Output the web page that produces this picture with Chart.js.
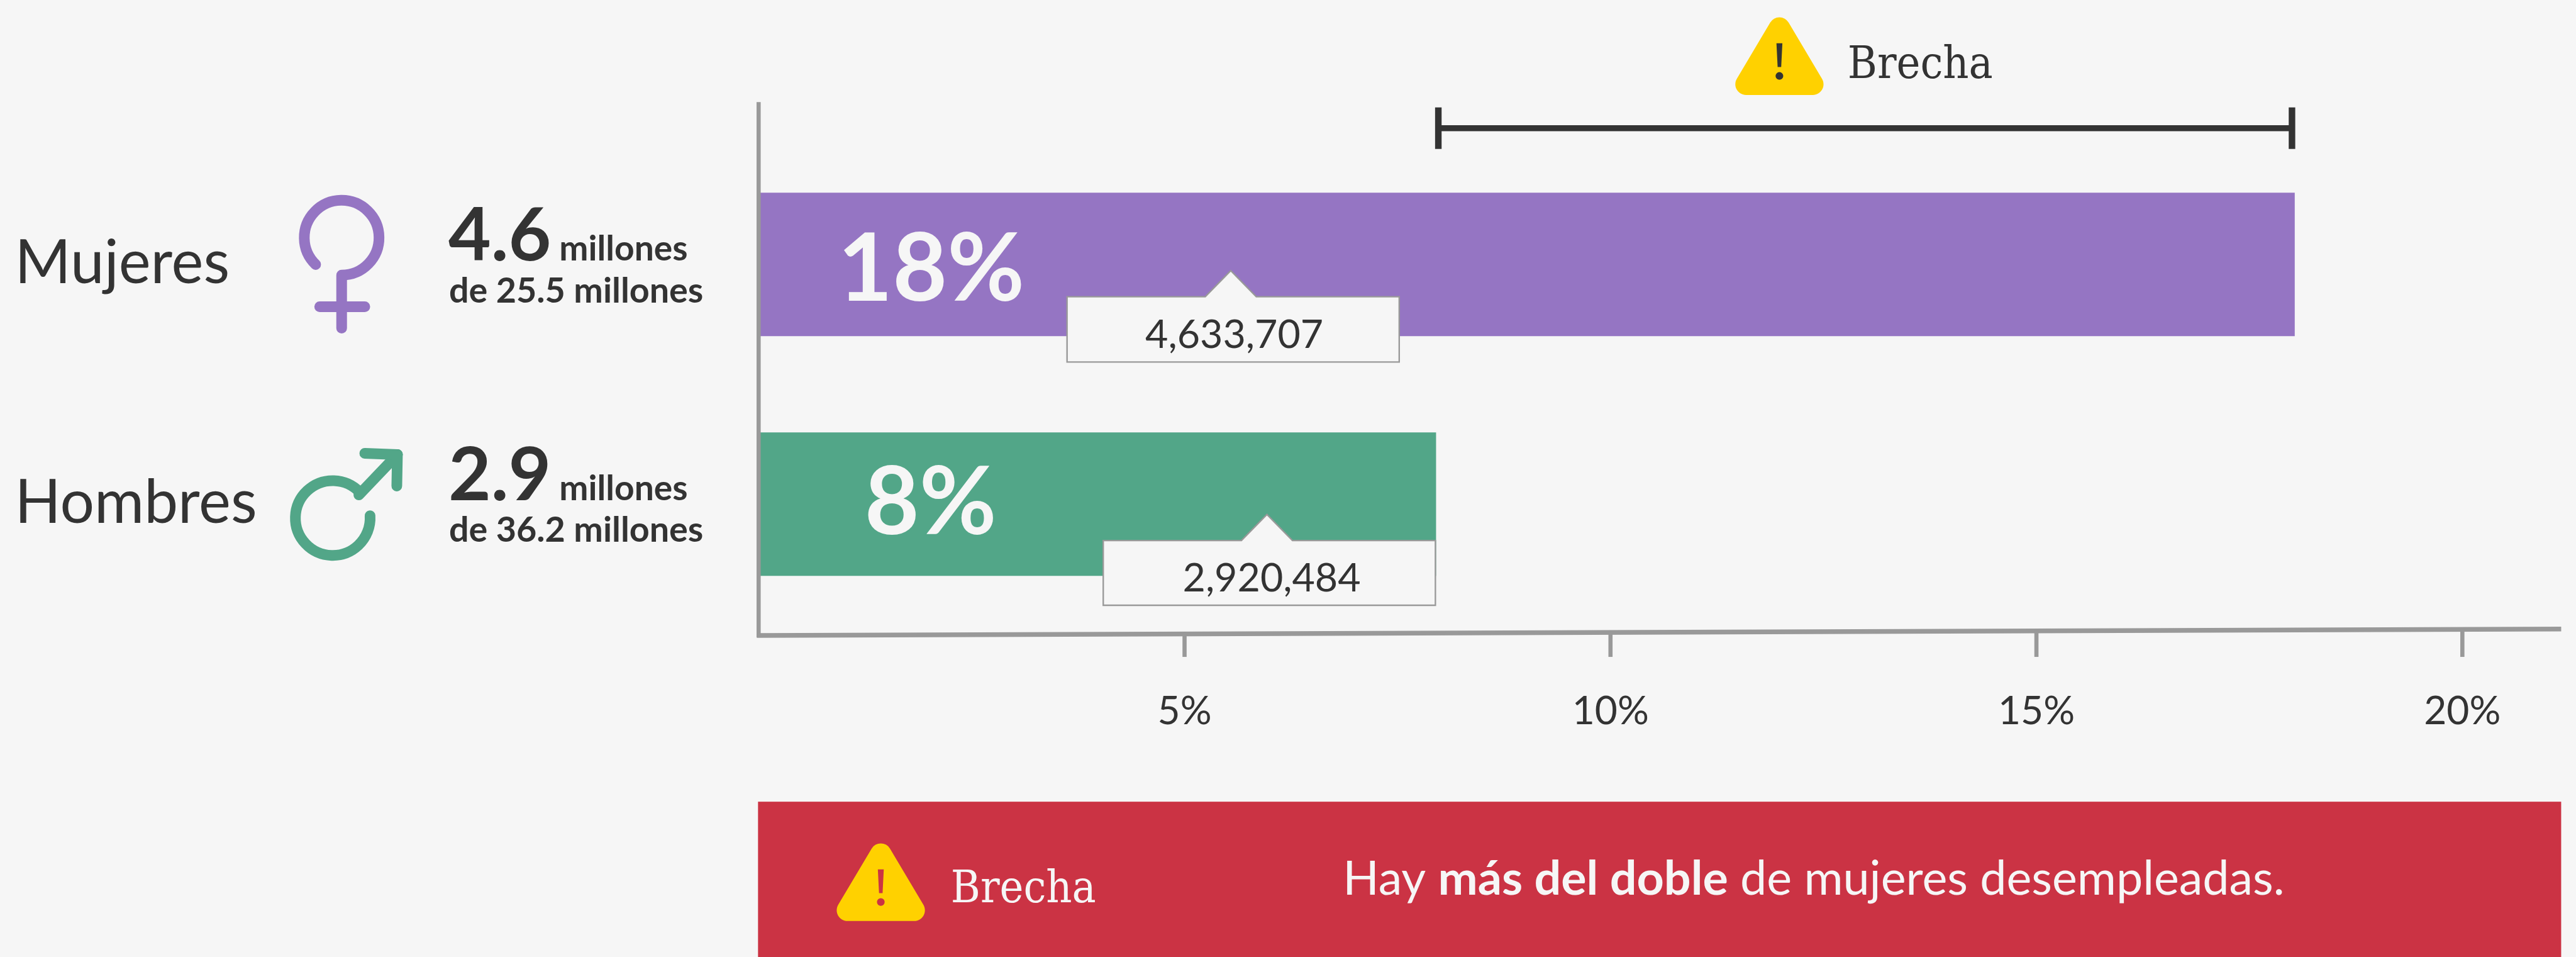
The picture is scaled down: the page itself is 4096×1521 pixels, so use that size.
<!DOCTYPE html>
<html lang="es">
<head>
<meta charset="utf-8">
<title>Brecha de desempleo</title>
<script src="https://cdn.jsdelivr.net/npm/chart.js@4/dist/chart.umd.min.js"></script>
<style>
  html, body { margin: 0; padding: 0; background: #f6f6f6; }
  canvas { display: block; }
</style>
</head>
<body>
<canvas id="chartBrecha" width="4096" height="1521"></canvas>
<script>
// Datos
const categorias = ["Mujeres", "Hombres"];
const valores = [18.03, 7.95];
const etiquetas = ["18%", "8%"];
const colores = ["#9575c3", "#52a688"];
const marcasEje = [5, 10, 15, 20];
const millones = ["4.6", "2.9"];
const totales = ["de 25.5 millones", "de 36.2 millones"];
const personas = ["4,633,707", "2,920,484"];

// Todo el dibujo extra va en coordenadas de la referencia (4343 de ancho)
const S = 4096 / 4343;
const BG = "#f6f6f6";
const OSCURO = "#333333";
const GRIS = "#999999";
const ROJO = "#cb3344";
const AMARILLO = "#ffd100";
const SERIF = "400 75.5px 'DejaVu Serif Condensed', 'DejaVu Serif'";

function texto(ctx, str, x, y, font, color, align) {
  ctx.font = font;
  ctx.fillStyle = color;
  ctx.textAlign = align || "left";
  ctx.textBaseline = "alphabetic";
  ctx.fillText(str, x, y);
}

function linea(ctx, x1, y1, x2, y2, ancho, color, cap) {
  ctx.beginPath();
  ctx.moveTo(x1, y1);
  ctx.lineTo(x2, y2);
  ctx.lineWidth = ancho;
  ctx.strokeStyle = color;
  ctx.lineCap = cap || "butt";
  ctx.stroke();
}

// Triángulo de alerta, (cx, top) es la punta redondeada
function alerta(ctx, cx, top, colorSigno) {
  const a = top - 17, b = top + 131;
  ctx.beginPath();
  ctx.moveTo(cx, b);
  ctx.arcTo(cx + 88, b, cx, a, 18);
  ctx.arcTo(cx, a, cx - 88, b, 18);
  ctx.arcTo(cx - 88, b, cx, b, 18);
  ctx.closePath();
  ctx.fillStyle = AMARILLO;
  ctx.fill();
  ctx.beginPath();
  ctx.moveTo(cx - 5, top + 44);
  ctx.lineTo(cx + 5, top + 44);
  ctx.lineTo(cx + 3, top + 84);
  ctx.lineTo(cx - 3, top + 84);
  ctx.closePath();
  ctx.arc(cx, top + 99, 6.5, 0, Math.PI * 2);
  ctx.fillStyle = colorSigno;
  ctx.fill();
}

function simboloMujer(ctx, color) {
  ctx.beginPath();
  ctx.arc(576, 400.5, 63, Math.PI * 0.745, Math.PI * 0.5);
  ctx.lineWidth = 18;
  ctx.strokeStyle = color;
  ctx.lineCap = "round";
  ctx.stroke();
  linea(ctx, 576, 465, 576, 553, 18, color, "round");
  linea(ctx, 539, 517, 615, 517, 18, color, "round");
}

function simboloHombre(ctx, color) {
  ctx.beginPath();
  ctx.arc(561, 873, 63, -Math.PI * 0.24, -Math.PI * 0.02, true);
  ctx.lineWidth = 18;
  ctx.strokeStyle = color;
  ctx.lineCap = "round";
  ctx.stroke();
  linea(ctx, 605, 834, 670, 766, 18, color, "round");
  linea(ctx, 615, 764, 670, 766, 18, color, "round");
  linea(ctx, 670, 766, 669, 819, 18, color, "round");
}

// Recuadro con pico y el número de personas
function recuadro(ctx, x1, x2, y1, y2, pico, str, centro, base) {
  ctx.beginPath();
  ctx.moveTo(x1, y1);
  ctx.lineTo(pico - 43, y1);
  ctx.lineTo(pico, y1 - 44);
  ctx.lineTo(pico + 43, y1);
  ctx.lineTo(x2, y1);
  ctx.lineTo(x2, y2);
  ctx.lineTo(x1, y2);
  ctx.closePath();
  ctx.fillStyle = BG;
  ctx.fill();
  ctx.lineWidth = 2.5;
  ctx.strokeStyle = GRIS;
  ctx.stroke();
  texto(ctx, str, centro, base, "400 66.5px Lato", OSCURO, "center");
}

const dibujoExtra = {
  id: "dibujoExtra",
  afterDatasetsDraw(chart) {
    const ctx = chart.ctx;
    const x = chart.scales.x;
    const px = (v) => x.getPixelForValue(v) / S;
    ctx.save();
    ctx.scale(S, S);

    // Ejes: el horizontal va un poco inclinado
    const x0 = px(0);
    const xFin = px(x.max);
    const yEje = (xp) => 1071 + ((xp - x0) / (xFin - x0)) * (1060 - 1071);
    linea(ctx, x0, 172, x0, 1074, 7, GRIS);
    linea(ctx, x0 - 3, yEje(x0), xFin, yEje(xFin), 8, GRIS);
    x.ticks.forEach((t) => {
      const xp = px(t.value);
      linea(ctx, xp, yEje(xp), xp, 1107, 7, GRIS);
    });

    // Etiquetas de valor dentro de las barras
    texto(ctx, etiquetas[0], 1570, 507, "700 159px Lato", BG, "center");
    texto(ctx, etiquetas[1], 1569, 900, "700 159px Lato", BG, "center");

    // Columna izquierda
    texto(ctx, categorias[0], 25, 477, "400 102px Lato", OSCURO);
    texto(ctx, categorias[1], 25, 881, "400 102px Lato", OSCURO);
    simboloMujer(ctx, colores[0]);
    simboloHombre(ctx, colores[1]);
    texto(ctx, millones[0], 756, 439, "700 124px Lato", OSCURO);
    texto(ctx, "millones", 943, 439, "700 58.5px Lato", OSCURO);
    texto(ctx, totales[0], 757, 510, "700 59px Lato", OSCURO);
    texto(ctx, millones[1], 756, 843, "700 124px Lato", OSCURO);
    texto(ctx, "millones", 943, 843, "700 58.5px Lato", OSCURO);
    texto(ctx, totales[1], 757, 913, "700 59px Lato", OSCURO);

    // Recuadros
    recuadro(ctx, 1799, 2359, 500, 610, 2075, personas[0], 2081, 586);
    recuadro(ctx, 1860, 2420, 911, 1020, 2136, personas[1], 2144, 997);

    // Corchete de la brecha
    const b1 = px(8) - 3;
    const b2 = px(18);
    linea(ctx, b1, 216, b2, 216, 10, OSCURO);
    linea(ctx, b1, 181, b1, 251, 11, OSCURO);
    linea(ctx, b2, 181, b2, 251, 11, OSCURO);
    alerta(ctx, 3000, 29, OSCURO);
    texto(ctx, "Brecha", 3115, 132, SERIF, OSCURO);

    // Banda roja inferior
    ctx.fillStyle = ROJO;
    ctx.fillRect(x0 - 1, 1351, xFin - x0 + 1, 1613 - 1351);
    alerta(ctx, 1485, 1421, ROJO);
    texto(ctx, "Brecha", 1603, 1520, SERIF, BG);
    let xt = 2264;
    [["Hay ", 400], ["más del doble", 700], [" de mujeres desempleadas.", 400]].forEach(([t, w]) => {
      const f = w + " 80px Lato";
      texto(ctx, t, xt, 1508, f, BG);
      xt += ctx.measureText(t).width;
    });

    ctx.restore();
  },
};

new Chart(document.getElementById("chartBrecha"), {
  type: "bar",
  data: {
    labels: categorias,
    datasets: [
      {
        data: valores,
        backgroundColor: colores,
        borderWidth: 0,
        barThickness: 241 * S,
      },
    ],
  },
  options: {
    indexAxis: "y",
    responsive: false,
    animation: false,
    layout: {
      padding: { left: 1279 * S, right: 25 * S, top: 243.5 * S, bottom: 0 },
    },
    plugins: {
      legend: { display: false },
      tooltip: { enabled: false },
    },
    scales: {
      x: {
        type: "linear",
        min: 0,
        max: 21.16,
        afterBuildTicks: (scale) => {
          scale.ticks = marcasEje.map((v) => ({ value: v }));
        },
        afterFit: (scale) => {
          scale.height = 1521 - 1051.5 * S;
        },
        border: { display: false },
        grid: { display: false },
        ticks: {
          autoSkip: false,
          maxRotation: 0,
          padding: 100 * S,
          color: OSCURO,
          font: { family: "Lato", size: 66 * S },
          callback: (v) => v + "%",
        },
      },
      y: {
        display: false,
        offset: true,
      },
    },
  },
  plugins: [dibujoExtra],
});
</script>
</body>
</html>
